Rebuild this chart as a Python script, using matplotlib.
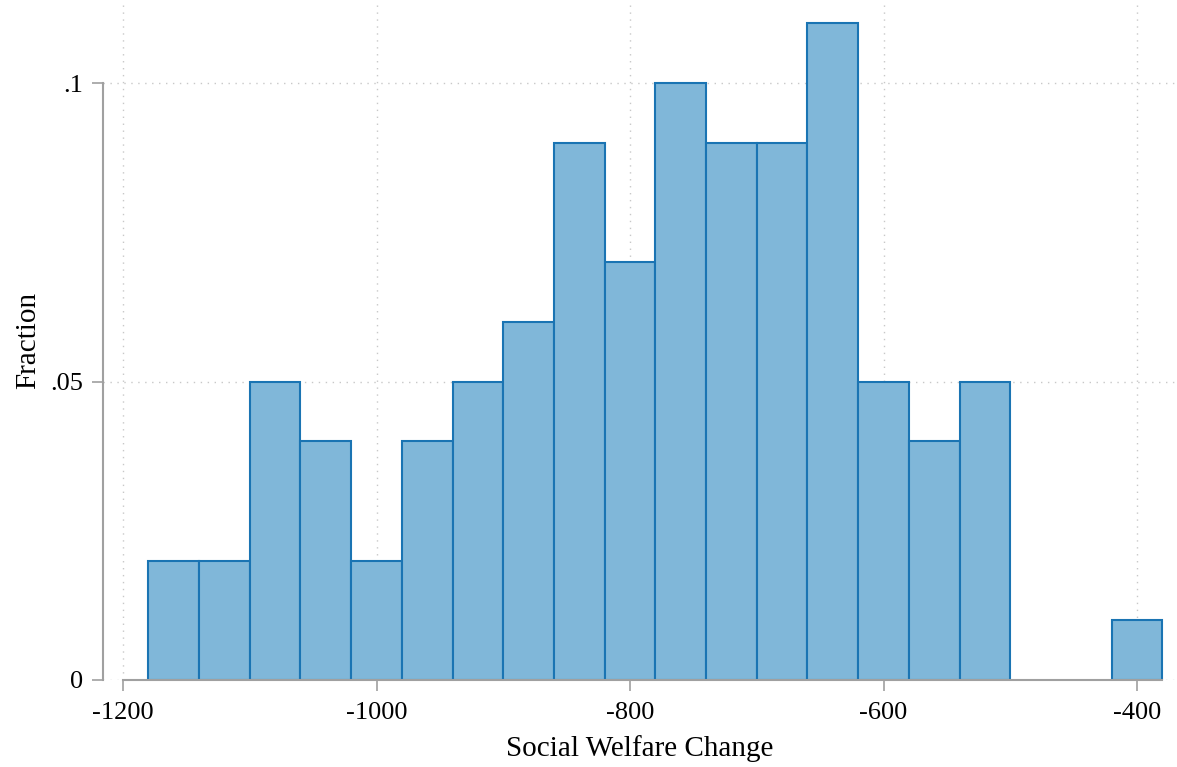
import matplotlib
matplotlib.use("Agg")
import matplotlib.pyplot as plt
import numpy as np

# Data: histogram bins (width 40) and fractions
bin_left = [-1180, -1140, -1100, -1060, -1020, -980, -940, -900, -860, -820,
            -780, -740, -700, -660, -620, -580, -540, -500, -460, -420]
fraction = [0.02, 0.02, 0.05, 0.04, 0.02, 0.04, 0.05, 0.06, 0.09, 0.07,
            0.10, 0.09, 0.09, 0.11, 0.05, 0.04, 0.05, 0.00, 0.00, 0.01]
bin_width = 40
xticks = [-1200, -1000, -800, -600, -400]
xticklabels = ["-1200", "-1000", "-800", "-600", "-400"]
yticks = [0, 0.05, 0.1]
yticklabels = ["0", ".05", ".1"]

plt.rcParams['font.family'] = ['Liberation Serif', 'DejaVu Serif']

W, H = 1177, 767
fig = plt.figure(figsize=(W / 100, H / 100), dpi=100)
left_px, bottom_px = 103, 680
ax = fig.add_axes([left_px / W, (H - bottom_px) / H, (W - left_px) / W, bottom_px / H])

px_per_x = 1014 / 800.0
x0 = -1200 - (123 - left_px) / px_per_x
x1 = -1200 + (W - 123) / px_per_x
ax.set_xlim(x0, x1)
ax.set_ylim(0, bottom_px / 5970.0)

lefts = [l for l, f in zip(bin_left, fraction) if f > 0]
vals = [f for f in fraction if f > 0]
ax.bar(lefts, vals, width=bin_width, align='edge', color='#80b7d9',
       edgecolor='#1a74b3', linewidth=1.5, zorder=3)

ax.set_xticks(xticks)
ax.set_xticklabels(xticklabels)
ax.set_yticks(yticks)
ax.set_yticklabels(yticklabels)

ax.grid(True, linestyle=(0, (1, 4)), color='#c8c8c8', linewidth=1.0, zorder=0)

for s in ['top', 'right']:
    ax.spines[s].set_visible(False)
ax.spines['left'].set_bounds(0, 0.1)
ax.spines['bottom'].set_bounds(-1200, -380)
for s in ['left', 'bottom']:
    ax.spines[s].set_color('#a0a0a0')
    ax.spines[s].set_linewidth(1.5)
    ax.spines[s].set_zorder(4)

ax.tick_params(axis='both', colors='#a0a0a0', length=8, width=1.2,
               labelsize=19, labelcolor='black')
ax.tick_params(axis='x', pad=8)
ax.tick_params(axis='y', pad=6)

ax.set_xlabel("Social Welfare Change", fontsize=21, labelpad=8)
ax.set_ylabel("Fraction", fontsize=21, labelpad=7)

fig.savefig("out.png", dpi=100)
